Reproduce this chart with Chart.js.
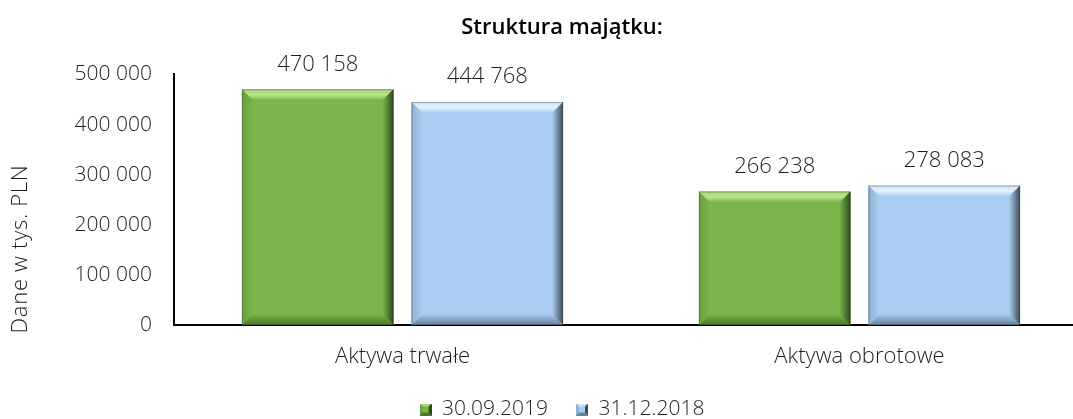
<!DOCTYPE html>
<html>
<head>
<meta charset="utf-8">
<script src="https://cdn.jsdelivr.net/npm/chart.js@4/dist/chart.umd.min.js"></script>
<style>
  html, body { margin: 0; padding: 0; background: #ffffff; }
  #wrap { width: 1073px; height: 419px; overflow: hidden; position: relative; }
  canvas { display: block; }
</style>
</head>
<body>
<div id="wrap"><canvas id="c" width="1120" height="419"></canvas></div>
<script>
const categories = ['Aktywa trwałe', 'Aktywa obrotowe'];
const seriesNames = ['30.09.2019', '31.12.2018'];
const values20190930 = [470158, 266238];
const values20181231 = [444768, 278083];
const yMin = 0, yMax = 500000, yStep = 100000;
const chartTitle = 'Struktura majątku:';
const yAxisTitle = 'Dane w tys. PLN';

const FONT = "'Open Sans', 'Noto Sans', sans-serif";
const TEXT = '#1e1e1e';

const palettes = [
  { face: '#79b54a', top: '#a6da78', topMid: '#b8e68c', left: '#6aa23e', right: '#2f4a1a', bottom: '#4a772a' },
  { face: '#a9cdf1', top: '#cfe6fb', topMid: '#e3f2fe', left: '#8eb0d2', right: '#3e4b58', bottom: '#66809c' }
];

function fmt(v) { return String(v).replace(/\B(?=(\d{3})+(?!\d))/g, ' '); }

function bevelIcon(p) {
  const s = 12, c = document.createElement('canvas');
  c.width = s; c.height = s;
  const g = c.getContext('2d');
  g.fillStyle = p.face; g.fillRect(0, 0, s, s);
  const b = 3;
  const tri = (pts, col) => { g.beginPath(); g.moveTo(pts[0][0], pts[0][1]); for (const q of pts.slice(1)) g.lineTo(q[0], q[1]); g.closePath(); g.fillStyle = col; g.fill(); };
  tri([[0,0],[s,0],[s-b,b],[b,b]], p.top);
  tri([[0,0],[b,b],[b,s-b],[0,s]], p.left);
  tri([[s,0],[s,s],[s-b,s-b],[s-b,b]], p.right);
  tri([[0,s],[s,s],[s-b,s-b],[b,s-b]], p.bottom);
  return c;
}

const bevelPlugin = {
  id: 'bevel',
  afterDatasetsDraw(chart) {
    const ctx = chart.ctx;
    chart.data.datasets.forEach((ds, di) => {
      const p = palettes[di];
      chart.getDatasetMeta(di).data.forEach(bar => {
        const l = bar.x - bar.width / 2, r = bar.x + bar.width / 2;
        const t = Math.min(bar.y, bar.base), bt = Math.max(bar.y, bar.base);
        const b = 11;
        const poly = (pts, fill) => {
          ctx.beginPath(); ctx.moveTo(pts[0][0], pts[0][1]);
          for (const q of pts.slice(1)) ctx.lineTo(q[0], q[1]);
          ctx.closePath(); ctx.fillStyle = fill; ctx.fill();
        };
        ctx.save();
        let g = ctx.createLinearGradient(0, t, 0, t + b);
        g.addColorStop(0, p.top); g.addColorStop(0.5, p.topMid); g.addColorStop(1, p.face);
        poly([[l, t], [r, t], [r - b, t + b], [l + b, t + b]], g);
        g = ctx.createLinearGradient(0, bt - b, 0, bt);
        g.addColorStop(0, p.face); g.addColorStop(1, p.bottom);
        poly([[l, bt], [r, bt], [r - b, bt - b], [l + b, bt - b]], g);
        g = ctx.createLinearGradient(l, 0, l + b, 0);
        g.addColorStop(0, p.left); g.addColorStop(1, p.face);
        poly([[l, t], [l + b, t + b], [l + b, bt - b], [l, bt]], g);
        g = ctx.createLinearGradient(r - b, 0, r, 0);
        g.addColorStop(0, p.face); g.addColorStop(1, p.right);
        poly([[r, t], [r, bt], [r - b, bt - b], [r - b, t + b]], g);
        ctx.strokeStyle = 'rgba(40,50,40,0.35)'; ctx.lineWidth = 1;
        ctx.strokeRect(l + 0.5, t + 0.5, bar.width - 1, bt - t - 1);
        ctx.restore();
      });
    });
  },
  afterDraw(chart) {
    const ctx = chart.ctx;
    ctx.save();
    ctx.font = '300 22px ' + FONT;
    ctx.fillStyle = TEXT;
    ctx.textAlign = 'center';
    ctx.textBaseline = 'middle';
    chart.data.datasets.forEach((ds, di) => {
      chart.getDatasetMeta(di).data.forEach((bar, i) => {
        ctx.fillText(fmt(ds.data[i]), bar.x, bar.y - 25);
      });
    });
    const ca = chart.chartArea;
    ctx.translate(21, ca.bottom - 76);
    ctx.rotate(-Math.PI / 2);
    ctx.font = '300 22px ' + FONT;
    try { ctx.letterSpacing = '0.7px'; } catch (e) {}
    ctx.fillText(yAxisTitle, 0, 0);
    ctx.restore();
  }
};

new Chart(document.getElementById('c'), {
  type: 'bar',
  data: {
    labels: categories,
    datasets: [
      { label: seriesNames[0], data: values20190930, backgroundColor: palettes[0].face, borderWidth: 0 },
      { label: seriesNames[1], data: values20181231, backgroundColor: palettes[1].face, borderWidth: 0 }
    ]
  },
  options: {
    responsive: false,
    animation: false,
    devicePixelRatio: 1,
    layout: { padding: { left: 36, right: 32, top: 0, bottom: -11 } },
    datasets: { bar: { categoryPercentage: 0.742, barPercentage: 0.894 } },
    plugins: {
      tooltip: { enabled: false },
      title: {
        display: true, text: chartTitle, color: '#000',
        font: { family: FONT, size: 22, weight: '600' },
        padding: { top: 15, bottom: 33 }
      },
      legend: {
        position: 'bottom',
        labels: {
          color: TEXT, font: { family: FONT, size: 21, weight: '300' },
          boxWidth: 12, boxHeight: 12, padding: 28, usePointStyle: true,
          generateLabels(chart) {
            return chart.data.datasets.map((ds, i) => ({
              text: ds.label, pointStyle: bevelIcon(palettes[i]), fillStyle: palettes[i].face,
              strokeStyle: 'transparent', lineWidth: 0, datasetIndex: i, hidden: false, fontColor: TEXT
            }));
          }
        }
      }
    },
    scales: {
      x: {
        grid: { display: false, drawTicks: false },
        border: { display: true, color: '#000', width: 2 },
        ticks: { color: TEXT, font: { family: FONT, size: 22, weight: '300' }, padding: 19 },
        afterFit(scale) { scale.height = 46; }
      },
      y: {
        min: yMin, max: yMax,
        grid: { display: false, drawTicks: false },
        border: { display: true, color: '#000', width: 2 },
        ticks: { stepSize: yStep, color: TEXT, font: { family: FONT, size: 21, weight: '300' }, padding: 22, callback: v => fmt(v) },
        afterFit(scale) { scale.width = 138; }
      }
    }
  },
  plugins: [bevelPlugin]
});
</script>
</body>
</html>
